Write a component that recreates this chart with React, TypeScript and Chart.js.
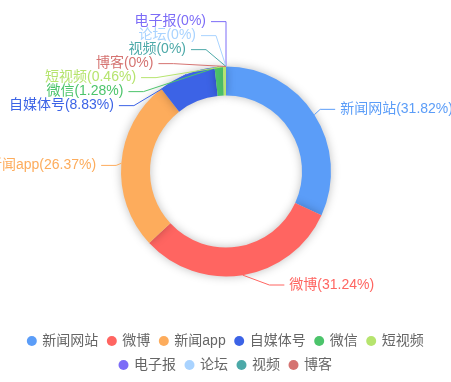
import React, { useEffect, useRef } from 'react';
import { Chart, registerables } from 'chart.js';

Chart.register(...registerables);

// ---- data ----
const categories = ['新闻网站', '微博', '新闻app', '自媒体号', '微信', '短视频', '电子报', '论坛', '视频', '博客'];
const shares = [31.82, 31.24, 26.37, 8.83, 1.28, 0.46, 0, 0, 0, 0];
const palette = ['#5B9DF8', '#FF6561', '#FDAC5C', '#3C63E6', '#4CC46B', '#B6E46E', '#7C6CF7', '#A9D3FF', '#4CA9A8', '#D57371'];

const FONT_FAMILY = '"Liberation Sans", "Noto Sans CJK SC", sans-serif';
const LABEL_FONT = `14px ${FONT_FAMILY}`;
const LEN1 = 10;
const LEN2 = 15;
const GAP = 5;
const LINE_H = 14;

type Item = {
  x: number;
  y: number;
  len: number;
  len2: number;
  height: number;
  pts: number[][];
  text: string;
  color: string;
};

function adjustSingleSide(list: Item[], cx: number, cy: number, r: number, dir: number, viewHeight: number, viewTop: number) {
  list.sort((a, b) => a.y - b.y);

  function shiftDown(start: number, end: number, delta: number) {
    for (let j = start; j < end; j++) {
      if (list[j].y + delta > viewTop + viewHeight) break;
      list[j].y += delta;
      if (j > start && j + 1 < end && list[j + 1].y > list[j].y + list[j].height) {
        shiftUp(j, delta / 2);
        return;
      }
    }
    shiftUp(end - 1, delta / 2);
  }

  function shiftUp(end: number, delta: number) {
    for (let j = end; j >= 0; j--) {
      if (list[j].y - delta < viewTop) break;
      list[j].y -= delta;
      if (j > 0 && list[j].y > list[j - 1].y + list[j - 1].height) break;
    }
  }

  function changeX(sub: Item[], isDownList: boolean) {
    let lastDeltaX = isDownList ? Number.MAX_VALUE : 0;
    for (let i = 0; i < sub.length; i++) {
      const deltaY = Math.abs(sub[i].y - cy);
      const length = sub[i].len;
      const length2 = sub[i].len2;
      let deltaX = deltaY < r + length
        ? Math.sqrt((r + length + length2) * (r + length + length2) - deltaY * deltaY)
        : Math.abs(sub[i].x - cx);
      if (isDownList && deltaX >= lastDeltaX) deltaX = lastDeltaX - 10;
      if (!isDownList && deltaX <= lastDeltaX) deltaX = lastDeltaX + 10;
      sub[i].x = cx + deltaX * dir;
      lastDeltaX = deltaX;
    }
  }

  let lastY = 0;
  const len = list.length;
  for (let i = 0; i < len; i++) {
    const delta = list[i].y - lastY;
    if (delta < 0) shiftDown(i, len, -delta);
    lastY = list[i].y + list[i].height;
  }
  if (viewHeight - lastY < 0) shiftUp(len - 1, lastY - viewHeight);

  const upList: Item[] = [];
  const downList: Item[] = [];
  for (let i = 0; i < len; i++) {
    if (list[i].y >= cy) downList.push(list[i]);
    else upList.push(list[i]);
  }
  changeX(upList, false);
  changeX(downList, true);
}

const pieLabels = {
  id: 'pieLabels',
  beforeDatasetsDraw(chart: any) {
    const ctx = chart.ctx;
    ctx.save();
    ctx.shadowBlur = 10;
    ctx.shadowColor = 'rgba(0,0,0,0.25)';
    ctx.shadowOffsetX = 0;
    ctx.shadowOffsetY = 0;
  },
  afterDatasetsDraw(chart: any) {
    const ctx = chart.ctx;
    ctx.restore();
    const meta = chart.getDatasetMeta(0);
    const items: Item[] = [];
    let cx = 0;
    let cy = 0;
    let r = 0;
    meta.data.forEach((arc: any, i: number) => {
      const p = arc.getProps(['x', 'y', 'startAngle', 'endAngle', 'outerRadius'], true);
      cx = p.x;
      cy = p.y;
      r = p.outerRadius;
      const mid = (p.startAngle + p.endAngle) / 2;
      let dx = Math.cos(mid);
      const dy = Math.sin(mid);
      if (Math.abs(dx) < 1e-6) dx = -1e-9;
      const x1 = cx + r * dx;
      const y1 = cy + r * dy;
      const x2 = x1 + dx * LEN1;
      const y2 = y1 + dy * LEN1;
      const dir = dx < 0 ? -1 : 1;
      const x3 = x2 + dir * LEN2;
      items.push({
        x: x3 + dir * GAP,
        y: y2,
        len: LEN1,
        len2: LEN2,
        height: LINE_H,
        pts: [[x1, y1], [x2, y2], [x3, y2]],
        text: `${categories[i]}(${shares[i]}%)`,
        color: palette[i],
      });
    });

    const left = items.filter((it) => it.x < cx);
    const right = items.filter((it) => it.x >= cx);
    adjustSingleSide(right, cx, cy, r, 1, chart.height, 0);
    adjustSingleSide(left, cx, cy, r, -1, chart.height, 0);

    ctx.save();
    ctx.font = LABEL_FONT;
    ctx.textBaseline = 'middle';
    ctx.lineWidth = 1;
    for (const it of items) {
      const isLeft = it.x < cx;
      const dist = it.pts[1][0] - it.pts[2][0];
      it.pts[2][0] = isLeft ? it.x + GAP : it.x - GAP;
      it.pts[1][1] = it.y;
      it.pts[2][1] = it.y;
      it.pts[1][0] = it.pts[2][0] + dist;

      ctx.strokeStyle = it.color;
      ctx.beginPath();
      ctx.moveTo(it.pts[0][0], it.pts[0][1]);
      ctx.lineTo(it.pts[1][0], it.pts[1][1]);
      ctx.lineTo(it.pts[2][0], it.pts[2][1]);
      ctx.stroke();

      ctx.fillStyle = it.color;
      ctx.textAlign = isLeft ? 'right' : 'left';
      ctx.fillText(it.text, it.x, it.y);
    }
    ctx.restore();
  },
};

export default function App() {
  const ref = useRef<HTMLCanvasElement | null>(null);
  useEffect(() => {
    if (!ref.current) return;
    const chart = new Chart(ref.current, {
      type: 'doughnut',
      data: {
        labels: categories,
        datasets: [
          {
            data: shares,
            backgroundColor: palette,
            borderColor: palette,
            borderWidth: 0,
          },
        ],
      },
      options: {
        responsive: false,
        animation: false,
        events: [],
        radius: 105,
        cutout: '72.4%',
        layout: { padding: { top: 19, left: 1, right: 0, bottom: 0 } },
        plugins: {
          tooltip: { enabled: false },
          legend: {
            position: 'bottom',
            labels: {
              usePointStyle: true,
              pointStyle: 'circle',
              boxWidth: 7,
              boxHeight: 7.07,
              padding: 10,
              color: '#666',
              font: { size: 14, family: FONT_FAMILY },
            },
          },
        },
      } as any,
      plugins: [pieLabels],
    });
    return () => chart.destroy();
  }, []);

  return (
    <div style={{ position: 'absolute', left: 0, top: 0, width: 451, height: 382, background: '#fff' }}>
      <canvas ref={ref} width={451} height={382} style={{ display: 'block', width: 451, height: 382 }} />
    </div>
  );
}
